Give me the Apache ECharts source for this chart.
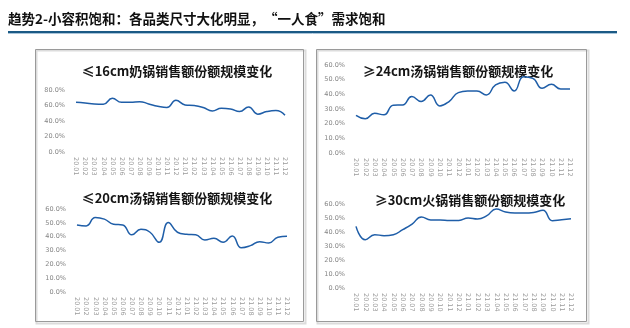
<!DOCTYPE html>
<html>
<head>
<meta charset="utf-8">
<script src="https://cdn.jsdelivr.net/npm/echarts@6/dist/echarts.min.js"></script>
<style>
  html, body { margin: 0; padding: 0; background: #fff; }
  #chart { width: 630px; height: 328px; }
</style>
</head>
<body>
<div id="chart"></div>
<script>
// Months 2020.01 – 2021.12
const months = ['20.01','20.02','20.03','20.04','20.05','20.06','20.07','20.08','20.09','20.10','20.11','20.12',
                '21.01','21.02','21.03','21.04','21.05','21.06','21.07','21.08','21.09','21.10','21.11','21.12'];

// Sales share (%) by pot size
const milkPot16 = [64.2,63.3,62.0,61.6,69.3,64.2,64.2,65.0,62.0,59.0,57.3,66.7,60.7,59.9,57.3,53.0,56.5,55.6,52.2,58.2,48.8,52.2,53.5,47.5];
const soupPot24 = [25.6,23.3,27.1,26.0,32.6,32.8,38.5,35.1,39.6,32.1,35.1,41.2,42.3,42.3,39.6,46.4,48.2,42.3,52.0,50.9,44.1,46.8,43.7,43.7];
const soupPot20 = [48.5,47.8,53.9,52.7,49.0,48.5,41.3,45.4,43.2,35.9,50.2,43.2,41.7,41.3,37.6,38.8,35.9,40.5,32.0,33.5,36.4,35.4,39.6,40.3];
const hotPot30  = [44.0,34.5,38.1,37.4,38.1,41.7,45.7,50.7,48.6,48.6,48.3,48.3,50.0,49.3,51.7,56.4,54.3,53.6,53.6,54.0,55.5,48.1,48.8,49.5];

const panelTitles = ['≤16cm奶锅销售额份额规模变化', '≥24cm汤锅销售额份额规模变化',
                     '≤20cm汤锅销售额份额规模变化', '≥30cm火锅销售额份额规模变化'];
const panelSeries = [milkPot16, soupPot24, soupPot20, hotPot30];
const yMaxes = [80, 60, 60, 60];
const yIntervals = [20, 10, 10, 10];
const pageTitle = '趋势2-小容积饱和：各品类尺寸大化明显，“一人食”需求饱和';

// Layout of the four panels
const grids = [
  { left: 76,  top: 90,  width: 209, height: 62 },
  { left: 356, top: 65,  width: 214, height: 88 },
  { left: 77,  top: 209, width: 210, height: 83 },
  { left: 356, top: 204, width: 215, height: 84 }
];
const titlePos = [[177, 71], [458, 71], [177, 198], [470, 200]];

const lineColor = '#1f5ea8';
const tickFont = 'DejaVu Sans, sans-serif';

const xAxes = grids.map((g, i) => ({
  type: 'category', gridIndex: i, data: months, boundaryGap: false,
  axisLine: { show: false }, axisTick: { show: false },
  axisLabel: { interval: 0, rotate: -90, fontSize: 6.5, color: '#9a9a9a', margin: 5, fontFamily: tickFont }
}));
const yAxes = grids.map((g, i) => ({
  type: 'value', gridIndex: i, min: 0, max: yMaxes[i], interval: yIntervals[i],
  axisLine: { show: false }, axisTick: { show: false }, splitLine: { show: false },
  axisLabel: { fontSize: 6.5, color: '#858585', margin: 11, fontFamily: tickFont,
               formatter: v => v.toFixed(1) + '%' }
}));
const series = panelSeries.map((d, i) => ({
  type: 'line', xAxisIndex: i, yAxisIndex: i, data: d, smooth: true,
  showSymbol: false, lineStyle: { color: lineColor, width: 1.5 }, silent: true, z: 3
}));

const graphics = [
  { type: 'text', left: 8, top: 12, style: { text: pageTitle, fill: '#111',
      font: 'bold 13.5px "Noto Sans CJK SC", sans-serif' } },
  { type: 'line', shape: { x1: 8, y1: 32, x2: 617, y2: 32 }, style: { stroke: '#1b5a85', lineWidth: 2 } },
  { type: 'line', shape: { x1: 8, y1: 33.5, x2: 617, y2: 33.5 }, style: { stroke: '#a9c5da', lineWidth: 1 } },
  // panel frames with a soft right/bottom edge
  { type: 'rect', shape: { x: 36.5, y: 50.5, width: 269, height: 273 }, style: { fill: 'none', stroke: '#dcdcdc', lineWidth: 2 } },
  { type: 'rect', shape: { x: 35.5, y: 49.5, width: 268, height: 272 }, style: { fill: 'none', stroke: '#9a9a9a', lineWidth: 1 } },
  { type: 'rect', shape: { x: 317.5, y: 50.5, width: 271, height: 273 }, style: { fill: 'none', stroke: '#dcdcdc', lineWidth: 2 } },
  { type: 'rect', shape: { x: 316.5, y: 49.5, width: 270, height: 272 }, style: { fill: 'none', stroke: '#9a9a9a', lineWidth: 1 } }
];
panelTitles.forEach((t, i) => {
  graphics.push({ type: 'text', x: titlePos[i][0], y: titlePos[i][1], z: 2,
    style: { text: t, align: 'center', verticalAlign: 'middle', fill: '#151515',
             font: 'bold 13px "Noto Sans CJK SC", sans-serif' } });
});

const chart = echarts.init(document.getElementById('chart'), null, { renderer: 'canvas' });
chart.setOption({
  animation: false,
  backgroundColor: '#fff',
  grid: grids,
  xAxis: xAxes,
  yAxis: yAxes,
  series: series,
  graphic: graphics
});
</script>
</body>
</html>
